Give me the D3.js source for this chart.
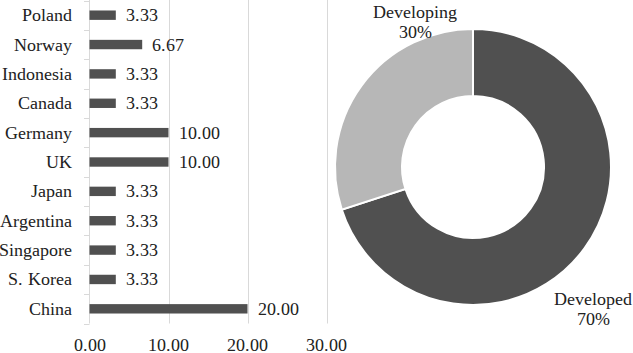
<!DOCTYPE html>
<html>
<head>
<meta charset="utf-8">
<script src="https://cdn.jsdelivr.net/npm/d3@7"></script>
<style>
  @font-face { font-family: "TNR"; src: local("Liberation Serif"), local("LiberationSerif"), local("Tinos"); }
  body { margin: 0; }
  text { font-family: "TNR", "Liberation Serif", "Tinos", serif; font-size: 17.5px; fill: #222; }
</style>
</head>
<body>
<script>
// Data
const countries = ["Poland", "Norway", "Indonesia", "Canada", "Germany", "UK", "Japan", "Argentina", "Singapore", "S. Korea", "China"];
const shares = [3.33, 6.67, 3.33, 3.33, 10.00, 10.00, 3.33, 3.33, 3.33, 3.33, 20.00];
const xTicks = [0, 10, 20, 30];
const groups = ["Developed", "Developing"];
const groupShares = [70, 30];

const svg = d3.select("body")
    .append("svg")
    .attr("width", 633)
    .attr("height", 353);

function label(px, py, str, anchor) {
    svg.append("text")
        .attr("x", px)
        .attr("y", py)
        .attr("text-anchor", anchor || "start")
        .text(str);
}

// Bar chart
const x = d3.scaleLinear().domain([0, 30]).range([89.5, 326.5]);
const y = d3.scaleBand().domain(countries).range([0.5, 323.5]).paddingInner(0.68).paddingOuter(0.34);
const yb = d3.scaleBand().domain(countries).range([0.5, 323.5]);

// gridlines
svg.selectAll(".grid")
    .data(xTicks.slice(1))
    .enter()
    .append("line")
    .attr("x1", d => Math.round(x(d)) + 0.5)
    .attr("x2", d => Math.round(x(d)) + 0.5)
    .attr("y1", 0)
    .attr("y2", 323.5)
    .attr("stroke", "#d9d9d9");

// y axis line + ticks at band boundaries
svg.append("line")
    .attr("x1", 89.5).attr("x2", 89.5)
    .attr("y1", 0).attr("y2", 323.5)
    .attr("stroke", "#d9d9d9");
svg.selectAll(".ytick")
    .data(d3.range(countries.length + 1))
    .enter()
    .append("line")
    .attr("x1", 84).attr("x2", 89.5)
    .attr("y1", i => Math.round(i < countries.length ? yb(countries[i]) : 323.5) + 0.5)
    .attr("y2", i => Math.round(i < countries.length ? yb(countries[i]) : 323.5) + 0.5)
    .attr("stroke", "#d9d9d9");

// bars
svg.selectAll(".bar")
    .data(countries)
    .enter()
    .append("rect")
    .attr("x", x(0))
    .attr("y", d => y(d))
    .attr("width", (d, i) => x(shares[i]) - x(0))
    .attr("height", y.bandwidth())
    .attr("fill", "#505050");

// category and value labels
countries.forEach((c, i) => {
    const cyBand = yb(c) + yb.bandwidth() / 2 + 6;
    label(72, cyBand, c, "end");
    label(x(shares[i]) + 10, cyBand, shares[i].toFixed(2));
});

// x tick labels
xTicks.forEach(t => label(x(t), 351, t.toFixed(2), "middle"));

// Donut chart
const cx = 473, cy = 167;
const pie = d3.pie().sort(null).value(d => d)(groupShares);
const arc = d3.arc().innerRadius(71).outerRadius(138);
const pieColor = d3.scaleOrdinal().domain(groups).range(["#505050", "#b7b7b7"]);

const donut = svg.append("g").attr("transform", `translate(${cx},${cy})`);
donut.selectAll("path")
    .data(pie)
    .enter()
    .append("path")
    .attr("d", arc)
    .attr("fill", (d, i) => pieColor(groups[i]))
    .attr("stroke", "#fff")
    .attr("stroke-width", 2);

const pieLabels = [{ x: 415, y: 18 }, { x: 593, y: 305 }];
const labelData = [groups[1], groups[0]];
const labelVals = [groupShares[1], groupShares[0]];
labelData.forEach((d, i) => {
    const p = pieLabels[i];
    label(p.x, p.y, d, "middle");
    label(p.x, p.y + 20, labelVals[i] + "%", "middle");
});
</script>
</body>
</html>
